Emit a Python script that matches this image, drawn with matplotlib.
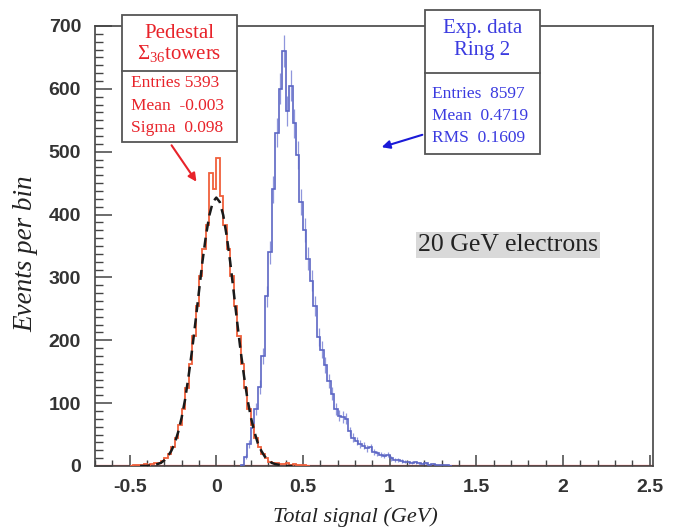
import numpy as np
import matplotlib
matplotlib.use("Agg")
import matplotlib.pyplot as plt
from matplotlib.patches import Rectangle, FancyArrowPatch
from matplotlib.lines import Line2D
from matplotlib.ticker import MultipleLocator

# ---- data ----
BIN_W = 0.02

# pedestal histogram (red), bins of 0.02 starting at -0.50
ped_start = -0.50
ped_counts = [0, 1, 2, 1, 3, 2, 3, 4, 5, 8, 12, 19, 30, 44, 65, 91, 124, 163,
              207, 254, 302, 346, 383, 466, 440, 490, 430, 383, 346, 302, 254,
              207, 163, 124, 91, 65, 44, 30, 19, 12, 7, 5, 4, 3, 3, 4, 2, 3,
              1, 2, 1, 0]

# gaussian fit to pedestal (black dashed), sampled every 0.02 from -0.44
fit_start = -0.44
fit_vals = [0, 0, 0, 1, 2, 3, 5, 9, 15, 24, 36, 54, 77, 106, 143, 184, 230, 278,
            325, 366, 399, 420, 427, 420, 399, 366, 325, 278, 230, 184, 143,
            106, 77, 54, 36, 24, 15, 9, 5, 3, 2, 1, 0, 0, 0]

# experimental data ring 2 (blue), bins of 0.02 starting at 0.14
exp_start = 0.14
exp_counts = [2, 15, 35, 60, 90, 125, 175, 270, 340, 440, 530, 600, 660, 565,
              605, 545, 495, 420, 375, 330, 295, 255, 205, 185, 160, 135, 115,
              90, 80, 78, 75, 55, 45, 40, 35, 32, 28, 30, 22, 20, 18, 16, 18,
              12, 10, 9, 8, 7, 6, 5, 6, 4, 3, 4, 2, 3, 2, 1, 2, 1, 0]

ped_stats = ["Entries 5393", "Mean  -0.003", "Sigma  0.098"]
exp_stats = ["Entries  8597", "Mean  0.4719", "RMS  0.1609"]

RED = "#e8232a"
RED_H = "#f0603c"
BLUE = "#3b3be0"
BLUE_H = "#5c66c4"
W, H = 675, 528


def fxy(px, py):
    # image pixel (top-left origin) -> figure fraction
    return px / W, 1 - py / H


fig = plt.figure(figsize=(6.75, 5.28), dpi=100)
ax = fig.add_axes([95 / W, 1 - 466 / H, 558 / W, 440 / H])

ped = np.array(ped_counts, float)
ped_edges = ped_start + BIN_W * np.arange(len(ped) + 1)
exp = np.array(exp_counts, float)
exp_edges = exp_start + BIN_W * np.arange(len(exp) + 1)
exp_cent = 0.5 * (exp_edges[:-1] + exp_edges[1:])
fit_x = fit_start + BIN_W * np.arange(len(fit_vals))

ax.axhline(0, color="#ff5a5a", lw=1.6, zorder=1)
ax.errorbar(exp_cent, exp, yerr=np.sqrt(exp), fmt="none", ecolor="#8f96dc",
            elinewidth=0.9, zorder=2)
ax.stairs(exp, exp_edges, color=BLUE_H, lw=1.2, zorder=3)
ax.stairs(ped, ped_edges, color=RED_H, lw=1.3, zorder=3)
ax.plot(fit_x, fit_vals, color="#1a1a1a", lw=1.8, ls=(0, (4, 2.5)), zorder=4)

ax.set_xlim(-0.7, 2.52)
ax.set_ylim(0, 700)
ax.xaxis.set_major_locator(MultipleLocator(0.5))
ax.xaxis.set_minor_locator(MultipleLocator(0.1))
ax.yaxis.set_major_locator(MultipleLocator(100))
ax.yaxis.set_minor_locator(MultipleLocator(12.5))
ax.xaxis.set_major_formatter(plt.FuncFormatter(lambda v, p: f"{v:g}"))
ax.tick_params(axis="x", which="both", direction="in", top=False, colors="#444",
               labelcolor="#333", labelsize=14, pad=9)
ax.tick_params(axis="x", which="major", length=8, width=1.1)
ax.tick_params(axis="x", which="minor", length=4, width=1.0)
ax.tick_params(axis="y", which="both", direction="in", right=False, colors="#444",
               labelcolor="#333", labelsize=14, pad=10)
ax.tick_params(axis="y", which="major", length=12, width=1.1)
ax.tick_params(axis="y", which="minor", length=6, width=1.0)
for lab in ax.get_xticklabels() + ax.get_yticklabels():
    lab.set_fontweight("bold")
    lab.set_family("Liberation Sans")
for s in ax.spines.values():
    s.set_color("#444")
    s.set_linewidth(1.2)

ax.set_xlabel("Total signal (GeV)", family="Liberation Serif", style="italic",
              fontsize=16, color="#222")
ax.xaxis.set_label_coords(260 / 558, -51 / 440)
ax.xaxis.label.set_va("center")
ax.set_ylabel("Events per bin", family="Liberation Serif", style="italic",
              fontsize=19.5, color="#222")
ax.yaxis.set_label_coords(-69 / 558, 212 / 440)
ax.yaxis.label.set_va("center")

ax.text(*fxy(508, 245), "20 GeV electrons", transform=fig.transFigure,
        ha="center", va="center", family="Liberation Serif", fontsize=18.5,
        color="#222", bbox=dict(fc="#d9d9d9", ec="none", pad=1.5))


def stat_box(left, top, right, bottom, divider, titles, title_y, stats,
             stats_x, stats_y, color):
    x0, y0 = fxy(left, bottom)
    x1, y1 = fxy(right, top)
    fig.add_artist(Rectangle((x0, y0), x1 - x0, y1 - y0, transform=fig.transFigure,
                             fc="white", ec="#555", lw=1.3, zorder=5))
    yd = fxy(0, divider)[1]
    fig.add_artist(Line2D([x0, x1], [yd, yd], transform=fig.transFigure,
                          color="#555", lw=1.3, zorder=6))
    xc = (left + right) / 2
    for t, ty in zip(titles, title_y):
        fig.text(*fxy(xc, ty), t, ha="center", va="center", color=color,
                 family="Liberation Serif", fontsize=15, zorder=7)
    for t, ty in zip(stats, stats_y):
        fig.text(*fxy(stats_x, ty), t, ha="left", va="center", color=color,
                 family="Liberation Serif", fontsize=12.5, zorder=7)


stat_box(122, 15, 237, 142, 71, ["Pedestal", r"$\mathregular{\Sigma_{36}}$towers"],
         [33, 54], ped_stats, 131, [83, 106, 128], RED)
stat_box(425, 10, 540, 154, 73, ["Exp. data", "Ring 2"], [29, 50],
         exp_stats, 432, [94, 116, 138], BLUE)

fig.add_artist(FancyArrowPatch(
    fxy(170, 143), fxy(198, 184), transform=fig.transFigure, arrowstyle="-|>",
    mutation_scale=12, color=RED, lw=1.5, zorder=6))
fig.add_artist(FancyArrowPatch(
    fxy(425, 134), fxy(379, 148), transform=fig.transFigure, arrowstyle="-|>",
    mutation_scale=12, color="#1a1ad8", lw=1.5, zorder=6))

fig.savefig("out.png", dpi=100)
